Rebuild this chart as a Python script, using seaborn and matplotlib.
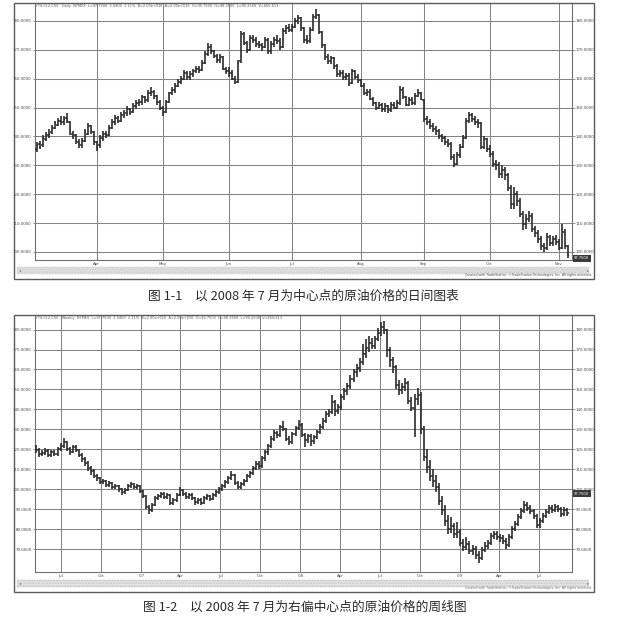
import numpy as np
import pandas as pd
import matplotlib
matplotlib.use("Agg")
import matplotlib.pyplot as plt
from matplotlib.patches import Rectangle
import matplotlib.transforms as mtransforms
import seaborn as sns

# ---------------- daily bars (2008-03-04 .. 2008-11-06, business days) ----------------
daily_start = "2008-03-04"
daily_open = [
    135.5, 137.5, 137.0, 139.0, 140.5, 141.5, 143.0, 144.0, 145.5, 145.0, 146.5, 145.0, 141.0, 140.5, 138.0, 137.0, 138.5, 141.0, 143.5, 141.5,
    138.0, 137.0, 139.5, 141.0, 140.5, 143.0, 145.0, 146.5, 145.5, 147.5, 148.0, 149.5, 148.5, 150.5, 151.5, 152.0, 153.5, 152.5, 155.0, 155.5, 154.0, 152.0,
    150.0, 148.5, 152.0, 155.0, 156.0, 157.5, 159.0, 160.0, 162.0, 160.5, 161.5, 162.5, 163.5, 163.0, 165.5, 168.5, 171.0, 169.5, 168.0, 166.5, 167.5, 163.5,
    162.5, 162.0, 160.0, 159.0, 166.0, 175.5, 172.5, 170.0, 174.0, 173.5, 172.0, 171.5, 171.0, 173.5, 169.5, 172.0, 173.5, 173.0, 171.0, 176.5, 177.5,
    177.0, 178.0, 180.0, 181.0, 177.5, 173.5, 173.0, 177.0, 181.5, 182.0, 176.0, 171.5, 167.5, 166.0, 167.0, 164.5, 161.5, 162.0, 160.5, 161.0, 158.5, 162.5, 160.5,
    159.5, 157.5, 155.0, 155.5, 153.0, 151.5, 150.0, 151.0, 149.5, 150.5, 149.0, 151.0, 150.0, 151.5, 156.0, 153.5, 151.0, 152.5, 151.5, 154.0, 155.0,
    152.5, 146.0, 145.0, 143.5, 142.5, 142.0, 140.0, 139.5, 138.0, 137.5, 133.0, 130.5, 133.5, 136.5, 139.5, 145.5, 147.5, 146.0, 145.0, 144.5, 136.5, 139.0,
    135.5, 134.0, 130.5, 130.0, 127.0, 128.5, 126.5, 122.0, 116.5, 120.0, 117.5, 113.0, 109.5, 111.5, 112.5, 108.0, 106.5, 104.5, 102.0, 101.5, 105.0, 103.0, 104.5,
    103.5, 101.5, 107.0, 102.0,
]
daily_high = [
    138.0, 138.5, 140.5, 141.5, 142.5, 144.0, 145.5, 146.5, 147.0, 147.0, 148.0, 145.5, 142.0, 141.0, 139.0, 139.5, 142.5, 144.5, 144.0, 142.0,
    138.5, 140.5, 142.0, 142.0, 144.0, 146.0, 147.5, 147.0, 148.5, 149.0, 150.5, 150.0, 151.5, 152.5, 153.0, 154.5, 154.0, 156.0, 157.0, 156.0, 154.5, 152.5,
    150.5, 152.5, 155.5, 157.0, 158.5, 160.0, 161.0, 163.0, 162.5, 162.5, 163.5, 164.5, 164.5, 166.5, 169.5, 172.5, 172.0, 170.0, 168.5, 168.5, 168.0, 164.0,
    164.0, 163.0, 161.0, 166.5, 176.5, 176.0, 173.0, 175.0, 175.0, 174.5, 173.0, 172.5, 174.5, 174.0, 173.0, 174.5, 175.0, 174.0, 177.5, 178.5, 179.0,
    179.0, 181.0, 182.0, 181.5, 178.0, 175.0, 178.0, 182.5, 184.0, 182.5, 176.5, 172.0, 168.5, 168.0, 167.5, 165.0, 163.0, 163.0, 162.0, 162.0, 163.5, 163.0, 161.5,
    160.0, 158.5, 156.5, 156.5, 153.5, 152.0, 152.0, 151.5, 151.5, 151.0, 152.0, 152.0, 152.5, 157.5, 157.0, 154.0, 153.5, 153.5, 155.0, 156.5, 155.5,
    153.0, 147.0, 146.0, 144.5, 143.5, 142.5, 141.0, 140.0, 139.0, 138.0, 134.0, 134.5, 137.5, 140.5, 146.5, 148.5, 148.0, 147.0, 146.0, 145.0, 140.0, 139.5,
    137.0, 135.0, 132.0, 131.0, 130.0, 129.5, 127.5, 123.0, 122.5, 121.0, 118.5, 114.0, 113.0, 114.0, 113.5, 109.0, 107.5, 105.5, 103.0, 106.5, 106.0, 105.5, 106.0,
    104.5, 109.5, 108.0, 102.5,
]
daily_low = [
    134.5, 135.5, 136.5, 138.5, 139.5, 141.0, 142.5, 143.5, 144.0, 144.0, 144.5, 140.5, 139.0, 137.5, 136.0, 136.0, 138.0, 140.5, 141.0, 137.0,
    135.0, 136.0, 138.5, 139.5, 140.0, 142.5, 144.0, 144.5, 145.0, 146.5, 147.0, 147.5, 148.0, 149.5, 150.5, 151.0, 151.5, 152.0, 154.0, 153.0, 151.0, 149.0,
    147.0, 148.0, 151.5, 154.5, 155.0, 157.0, 158.0, 159.5, 159.5, 159.5, 160.5, 162.0, 162.0, 162.5, 165.0, 168.0, 168.5, 167.0, 165.5, 165.5, 163.0, 161.5,
    160.5, 159.5, 158.0, 158.5, 165.5, 171.5, 169.0, 169.5, 172.5, 171.0, 170.5, 169.5, 170.5, 168.5, 168.5, 171.0, 172.0, 170.0, 170.5, 175.5, 176.0,
    176.0, 177.5, 179.0, 176.5, 172.5, 172.0, 172.5, 176.5, 180.5, 175.5, 170.5, 166.5, 165.0, 165.0, 163.5, 160.5, 160.5, 159.5, 159.5, 157.5, 158.0, 160.0, 158.5,
    157.0, 154.5, 154.0, 152.5, 150.5, 149.0, 149.5, 148.5, 148.5, 148.0, 148.5, 149.5, 149.5, 151.0, 153.0, 150.5, 150.5, 151.0, 151.0, 153.5, 152.5,
    145.0, 144.0, 142.5, 141.5, 140.5, 139.0, 138.0, 137.0, 136.5, 132.0, 129.5, 130.0, 132.5, 136.0, 139.0, 144.5, 145.0, 144.0, 143.0, 135.5, 135.5, 134.5,
    133.0, 129.5, 128.5, 125.5, 125.5, 125.0, 121.0, 115.0, 115.0, 116.0, 112.0, 107.5, 108.0, 110.5, 107.0, 105.0, 103.0, 100.5, 100.0, 100.5, 102.0, 102.0, 102.5,
    100.5, 101.0, 101.0, 98.0,
]
daily_close = [
    137.0, 136.5, 139.5, 140.5, 141.0, 143.0, 144.5, 145.5, 145.0, 146.0, 145.5, 141.5, 140.0, 138.5, 137.5, 138.5, 141.5, 143.5, 142.0, 138.0,
    136.5, 139.5, 141.0, 140.5, 143.0, 145.0, 146.5, 145.5, 147.5, 148.0, 149.5, 148.5, 150.5, 151.5, 152.0, 153.5, 152.5, 155.0, 155.5, 154.0, 152.0, 150.0,
    148.5, 152.0, 155.0, 156.0, 157.5, 159.0, 160.0, 162.0, 160.5, 161.5, 162.5, 163.5, 163.0, 165.5, 168.5, 171.0, 169.5, 168.0, 166.5, 167.5, 163.5, 162.5,
    162.0, 160.0, 159.0, 165.5, 175.5, 172.5, 170.0, 174.0, 173.5, 172.0, 171.5, 171.0, 173.5, 169.5, 172.0, 173.5, 173.0, 171.0, 176.5, 177.5, 177.0,
    178.0, 180.0, 181.0, 177.5, 173.5, 173.0, 177.0, 181.5, 182.0, 176.0, 171.5, 167.5, 166.0, 167.0, 164.5, 161.5, 162.0, 160.5, 161.0, 158.5, 162.5, 160.5, 159.5,
    157.5, 155.0, 155.5, 153.0, 151.5, 150.0, 151.0, 149.5, 150.5, 149.0, 151.0, 150.0, 151.5, 156.0, 153.5, 151.0, 152.5, 151.5, 154.0, 155.0, 153.0,
    146.0, 145.0, 143.5, 142.5, 142.0, 140.0, 139.5, 138.0, 137.5, 133.0, 130.5, 133.5, 136.5, 139.5, 145.5, 147.5, 146.0, 145.0, 144.5, 136.5, 139.0, 135.5,
    134.0, 130.5, 130.0, 127.0, 128.5, 126.5, 122.0, 116.5, 120.0, 117.5, 113.0, 109.5, 111.5, 112.5, 108.0, 106.5, 104.5, 102.0, 101.5, 105.0, 103.0, 104.5, 103.5,
    101.5, 107.0, 102.0, 99.0,
]
daily_yticks = [100, 110, 120, 130, 140, 150, 160, 170, 180]
daily_month_labels = ["Apr", "May", "Jun", "Jul", "Aug", "Sep", "Oct", "Nov"]

# ---------------- weekly bars (from week ending 2006-05-05) ----------------
weekly_start = "2006-05-05"
weekly_open = [
    121.0, 119.5, 117.5, 118.0, 119.0, 117.0, 118.5, 117.5, 120.0, 121.5,
    123.5, 120.0, 118.5, 121.0, 119.5, 117.0, 115.0, 113.0, 110.5, 109.0,
    106.5, 105.5, 103.5, 104.0, 102.0, 103.0, 101.0, 101.5, 100.0, 98.5,
    99.5, 101.5, 102.5, 101.0, 101.5, 99.0, 96.5, 91.0, 89.5, 92.0,
    95.5, 96.5, 97.5, 96.0, 97.0, 93.0, 94.5, 97.0, 99.5, 97.5,
    96.0, 97.0, 95.5, 93.5, 94.5, 93.0, 95.5, 96.5, 95.0, 97.0,
    98.5, 100.0, 101.5, 103.5, 105.5, 107.0, 103.0, 101.0, 102.5, 104.0,
    106.5, 108.0, 110.5, 112.5, 111.5, 115.5, 118.5, 121.5, 125.0, 128.0,
    127.0, 131.0, 130.0, 125.0, 123.5, 127.5, 130.5, 132.0, 127.0, 124.5,
    126.5, 124.0, 126.0, 128.5, 131.0, 134.0, 137.5, 138.5, 143.5, 139.0,
    141.0, 146.0, 149.0, 151.5, 155.0, 158.5, 160.5, 163.5, 168.0, 171.0,
    173.5, 172.0, 175.5, 178.5, 181.5, 180.0, 170.0, 164.5, 161.0, 152.0,
    149.5, 151.0, 153.0, 144.0, 140.5, 145.0, 147.0,
    130.0, 116.0, 111.0, 106.5, 104.0, 101.0, 94.0, 89.5, 84.0, 80.0,
    81.5, 77.5, 78.5, 73.0, 71.0, 72.5, 69.0, 70.0, 67.0, 65.5,
    69.5, 71.5, 73.0, 76.5, 77.5, 76.0, 75.5, 74.0, 72.0, 76.0,
    80.0, 82.5, 86.0, 89.0, 92.0, 90.5, 89.0, 86.5, 82.0, 84.0,
    86.5, 88.5, 90.5, 89.5, 91.0, 90.0, 87.5, 89.5,
]
weekly_high = [
    122.0, 120.5, 119.5, 120.5, 120.0, 119.5, 119.5, 121.0, 123.0, 125.5,
    124.0, 121.0, 122.0, 122.0, 120.0, 118.0, 116.0, 114.0, 111.5, 110.0,
    107.5, 106.0, 105.0, 104.5, 104.0, 103.5, 102.5, 102.0, 100.5, 100.5,
    102.5, 103.5, 103.0, 102.5, 102.0, 99.5, 97.0, 92.0, 93.0, 96.5,
    97.5, 98.5, 98.5, 98.0, 97.5, 95.5, 98.0, 101.0, 100.0, 98.5,
    98.0, 98.0, 96.0, 95.5, 95.5, 96.5, 97.5, 97.0, 98.0, 99.5,
    101.0, 102.5, 104.5, 106.5, 109.0, 107.5, 104.0, 103.5, 105.0, 107.5,
    109.0, 111.5, 114.0, 114.0, 116.5, 119.5, 122.5, 126.5, 129.5, 129.0,
    132.0, 134.0, 130.5, 126.5, 128.5, 131.5, 134.5, 133.0, 128.0, 127.5,
    127.5, 127.0, 129.5, 132.5, 135.5, 139.0, 140.0, 147.0, 144.5, 142.5,
    147.5, 150.5, 153.0, 157.0, 160.0, 162.5, 166.0, 173.0, 175.5, 177.0,
    176.0, 177.0, 181.0, 184.0, 184.5, 180.5, 171.5, 166.5, 162.0, 154.5,
    153.0, 155.5, 154.0, 146.0, 147.5, 150.5, 148.5,
    131.5, 120.0, 114.5, 110.0, 107.0, 103.0, 96.5, 92.0, 87.0, 86.0,
    83.0, 83.5, 80.0, 75.0, 76.0, 74.0, 72.0, 71.5, 69.0, 71.0,
    73.5, 74.5, 78.0, 79.0, 79.0, 77.5, 77.0, 75.5, 77.5, 81.5,
    84.0, 87.5, 90.5, 94.0, 93.5, 92.0, 90.0, 87.5, 85.5, 88.0,
    90.0, 92.0, 92.0, 92.5, 92.0, 91.0, 91.0, 90.5,
]
weekly_low = [
    118.0, 116.0, 116.5, 117.0, 116.0, 116.0, 116.5, 116.5, 119.0, 120.5,
    119.0, 117.0, 118.0, 118.5, 116.0, 113.5, 111.5, 109.0, 107.0, 105.5,
    104.0, 102.5, 102.5, 101.0, 101.0, 100.0, 100.0, 98.5, 97.0, 97.5,
    99.0, 100.5, 100.0, 100.0, 98.0, 95.5, 90.0, 87.5, 88.5, 91.5,
    94.5, 95.5, 95.0, 95.0, 92.0, 92.0, 93.5, 96.5, 96.5, 95.0,
    95.0, 94.5, 92.0, 92.5, 92.0, 92.5, 94.5, 94.0, 94.5, 96.0,
    97.5, 99.0, 100.5, 102.5, 104.5, 102.0, 100.0, 100.0, 101.5, 103.5,
    105.5, 107.0, 109.5, 110.0, 110.5, 114.0, 117.0, 120.5, 124.0, 125.5,
    126.0, 129.0, 124.0, 122.0, 122.5, 126.5, 129.5, 126.0, 121.0, 123.0,
    121.5, 122.5, 125.0, 127.5, 130.0, 133.0, 136.0, 137.5, 136.5, 137.5,
    139.5, 144.5, 147.0, 150.0, 153.5, 156.0, 158.5, 162.0, 166.0, 169.0,
    170.5, 170.5, 174.5, 177.0, 178.0, 166.5, 161.0, 158.0, 150.0, 147.0,
    147.5, 149.0, 142.5, 139.0, 126.0, 142.0, 127.5,
    114.0, 108.0, 104.0, 101.0, 98.5, 92.0, 87.0, 81.5, 77.5, 78.0,
    75.5, 75.5, 71.5, 69.0, 69.5, 67.5, 67.0, 65.0, 63.0, 64.5,
    68.5, 70.0, 72.0, 75.0, 74.5, 73.5, 72.5, 70.0, 71.0, 75.0,
    79.0, 81.5, 85.0, 88.0, 89.0, 87.5, 85.0, 80.5, 80.5, 83.0,
    85.5, 87.5, 88.0, 88.5, 88.5, 86.0, 86.5, 86.5,
]
weekly_close = [
    119.5, 117.5, 118.0, 119.0, 117.0, 118.5, 117.5, 120.0, 121.5, 123.5,
    120.0, 118.5, 121.0, 119.5, 117.0, 115.0, 113.0, 110.5, 109.0, 106.5,
    105.5, 103.5, 104.0, 102.0, 103.0, 101.0, 101.5, 100.0, 98.5, 99.5,
    101.5, 102.5, 101.0, 101.5, 99.0, 96.5, 91.0, 89.5, 92.0, 95.5,
    96.5, 97.5, 96.0, 97.0, 93.0, 94.5, 97.0, 99.5, 97.5, 96.0,
    97.0, 95.5, 93.5, 94.5, 93.0, 95.5, 96.5, 95.0, 97.0, 98.5,
    100.0, 101.5, 103.5, 105.5, 107.0, 103.0, 101.0, 102.5, 104.0, 106.5,
    108.0, 110.5, 112.5, 111.5, 115.5, 118.5, 121.5, 125.0, 128.0, 127.0,
    131.0, 130.0, 125.0, 123.5, 127.5, 130.5, 132.0, 127.0, 124.5, 126.5,
    124.0, 126.0, 128.5, 131.0, 134.0, 137.5, 138.5, 143.5, 139.0, 141.0,
    146.0, 149.0, 151.5, 155.0, 158.5, 160.5, 163.5, 168.0, 171.0, 173.5,
    172.0, 175.5, 178.5, 181.5, 180.0, 170.0, 164.5, 161.0, 152.0, 149.5,
    151.0, 153.0, 144.0, 140.5, 145.0, 147.0, 130.0,
    116.0, 111.0, 106.5, 104.0, 101.0, 94.0, 89.5, 84.0, 80.0, 81.5,
    77.5, 78.5, 73.0, 71.0, 72.5, 69.0, 70.0, 67.0, 65.5, 69.5,
    71.5, 73.0, 76.5, 77.5, 76.0, 75.5, 74.0, 72.0, 76.0, 80.0,
    82.5, 86.0, 89.0, 92.0, 90.5, 89.0, 86.5, 82.0, 84.0, 86.5,
    88.5, 90.5, 89.5, 91.0, 90.0, 87.5, 89.5, 88.0,
]
weekly_yticks = [70, 80, 90, 100, 110, 120, 130, 140, 150, 160, 170, 180]
weekly_tick_dates = ["2006-07-01", "2006-10-01", "2007-01-01", "2007-04-01", "2007-07-01",
                     "2007-10-01", "2008-01-01", "2008-04-01", "2008-07-01", "2008-10-01",
                     "2009-01-01", "2009-04-01", "2009-07-01"]
weekly_tick_labels = ["Jul", "Oct", "'07", "Apr", "Jul", "Oct", "'08", "Apr", "Jul", "Oct",
                      "'09", "Apr", "Jul"]

last_price = 97.75
header_daily = ("+TS:CL2.CSV - Daily  NYMEX  L=97.7500  2.0400  2.11%  B=2.00e+016  "
                "A=2.00e+016  O=95.7500  H=98.2500  L=95.2500  V=655,613")
header_weekly = ("+TS:CL2.CSV - Weekly  NYMEX  L=97.7500  2.0400  2.11%  B=2.00e+016  "
                 "A=2.00e+016  O=95.7500  H=98.2500  L=95.2500  V=655,613")
copyright_txt = "Created with TradeStation. \u00a9TradeStation Technologies, Inc. All rights reserved."
caption1 = "图 1-1\u3000以 2008 年 7 月为中心点的原油价格的日间图表"
caption2 = "图 1-2\u3000以 2008 年 7 月为右偏中心点的原油价格的周线图"

# ---------------- build frames ----------------
d_dates = pd.bdate_range(daily_start, periods=len(daily_close))
daily = pd.DataFrame({"date": d_dates, "open": daily_open, "high": daily_high,
                      "low": daily_low, "close": daily_close})
daily["x"] = np.arange(len(daily))
month_idx = [i for i in range(1, len(daily)) if d_dates[i].month != d_dates[i - 1].month]

w_dates = pd.date_range(weekly_start, periods=len(weekly_close), freq="W-FRI")
weekly = pd.DataFrame({"date": w_dates, "open": weekly_open, "high": weekly_high,
                       "low": weekly_low, "close": weekly_close})
weekly["x"] = np.arange(len(weekly))
w_tick_pos = [(pd.Timestamp(d) - w_dates[0]).days / 7.0 for d in weekly_tick_dates]

# ---------------- style ----------------
sns.set_theme(style="white")
plt.rcParams["font.family"] = ["DejaVu Sans"]

W, H = 617, 624
fig = plt.figure(figsize=(W / 100, H / 100), dpi=100)
fig.patch.set_facecolor("white")

BAR = "#2c2c2c"
GRID = "#848484"
TXT = "#444444"


def px_axes(x0, y0, x1, y1, **kw):
    return fig.add_axes([x0 / W, 1 - y1 / H, (x1 - x0) / W, (y1 - y0) / H], **kw)


def draw_chart(ax, df, ylim, xlim, yticks, xticks, xlabels, tw):
    ax.set_facecolor("white")
    ax.vlines(df["x"], df["low"], df["high"], color=BAR, lw=1.2, zorder=3)
    ax.hlines(df["open"], df["x"] - tw, df["x"], color=BAR, lw=1.1, zorder=3)
    ax.hlines(df["close"], df["x"], df["x"] + tw, color=BAR, lw=1.1, zorder=3)
    ax.set_xlim(*xlim)
    ax.set_ylim(*ylim)
    ax.set_yticks(yticks)
    ax.set_yticklabels([f"{v:.4f}" for v in yticks])
    ax.set_xticks(xticks)
    ax.set_xticklabels(xlabels)
    ax.grid(True, color=GRID, lw=0.75, zorder=1)
    ax.tick_params(axis="y", left=True, right=True, labelleft=True, labelright=True,
                   length=1.8, width=0.6, color=GRID, pad=0.6, labelsize=2.8, labelcolor=TXT)
    ax.tick_params(axis="x", bottom=False, length=0, pad=1.2, labelsize=2.8, labelcolor=TXT)
    for s in ax.spines.values():
        s.set_color("#707070")
        s.set_linewidth(0.8)
    ax.spines["top"].set_visible(False)
    # last price box on the right scale
    trans = mtransforms.blended_transform_factory(ax.transAxes, ax.transData)
    ax.text(1.004, last_price, f"{last_price:.4f}", transform=trans, ha="left", va="center",
            fontsize=2.6, color="white", zorder=6, clip_on=False,
            bbox=dict(boxstyle="square,pad=0.35", fc="#3a3a3a", ec="none"))


# top chart (daily)
ax1 = px_axes(35, 3, 572, 260)
draw_chart(ax1, daily, (97.2, 186.2), (-0.5, 178.5), daily_yticks,
           month_idx, daily_month_labels[:len(month_idx)], 0.5)
ax1.text(0.0, 0.995, header_daily, transform=ax1.transAxes, ha="left", va="top",
         fontsize=2.5, color="#555555", zorder=7)

# bottom chart (weekly)
ax2 = px_axes(35, 315, 572, 572)
draw_chart(ax2, weekly, (58.5, 187.3), (-0.38, 175.6), weekly_yticks,
           w_tick_pos, weekly_tick_labels, 0.5)
ax2.text(0.0, 0.995, header_weekly, transform=ax2.transAxes, ha="left", va="top",
         fontsize=2.5, color="#555555", zorder=7)

# ---------------- overlay: frames, scroll strips, captions ----------------
ov = fig.add_axes([0, 0, 1, 1], zorder=10)
ov.set_xlim(0, W)
ov.set_ylim(H, 0)
ov.axis("off")
ov.patch.set_alpha(0)

for (top, bot, strip_y) in [(3, 278.5, 266.5), (315, 592, 580)]:
    ov.add_patch(Rectangle((14, top), 580, bot - top, fill=False, ec="#5a5a5a", lw=1.0))
    ov.add_patch(Rectangle((17, strip_y), 572, 7, fc="#e6e6e6", ec="#c8c8c8",
                           lw=0.3, hatch="......"))
    ov.text(19, strip_y + 3.5, "\u25c2", fontsize=3, color="#777777", ha="left", va="center")
    ov.text(589, strip_y + 3.5, "\u25b8", fontsize=3, color="#777777", ha="right", va="center")

ov.text(592, 276.8, copyright_txt, fontsize=2.3, color="#555555", ha="right", va="bottom")
ov.text(592, 590.3, copyright_txt, fontsize=2.3, color="#777777", ha="right", va="bottom")

cap_font = ["Noto Sans CJK SC", "DejaVu Sans"]
ov.text(303, 296, caption1, fontsize=9.2, color="#2b2b2b", ha="center", va="center",
        family=cap_font)
ov.text(305, 607, caption2, fontsize=9.2, color="#2b2b2b", ha="center", va="center",
        family=cap_font)

fig.savefig("out.png", dpi=100, facecolor="white")
